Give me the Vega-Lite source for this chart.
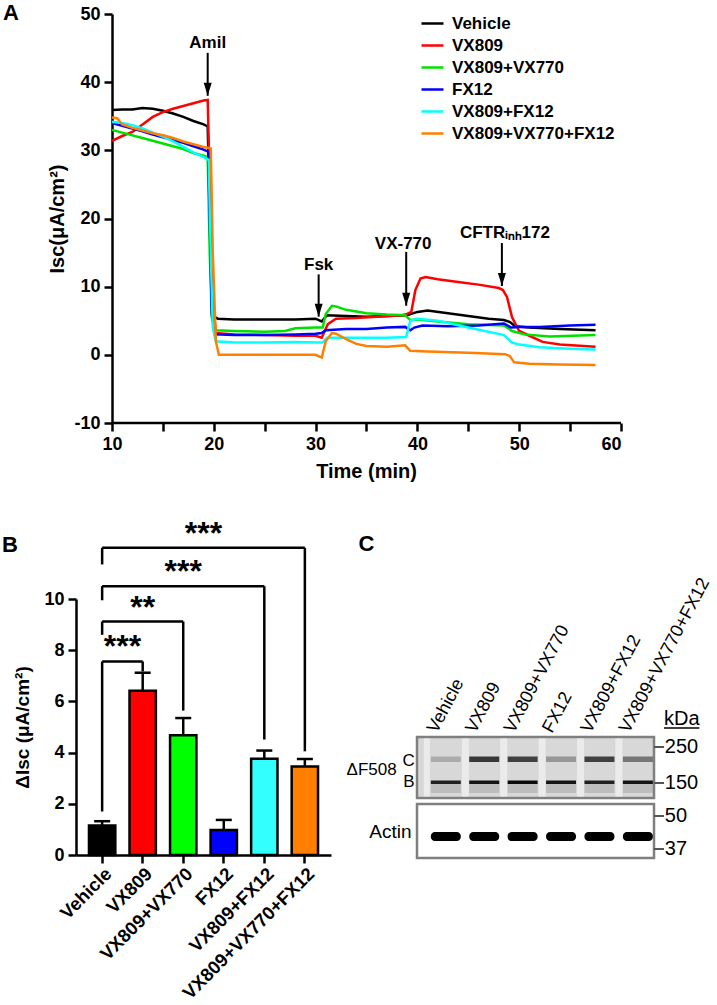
{
  "$schema": "https://vega.github.io/schema/vega-lite/v6.json",
  "background": "white",
  "padding": {"left": 1, "top": 2, "right": 2, "bottom": 2},
  "config": {
    "font": "Liberation Sans",
    "view": {"stroke": null},
    "axis": {"domainColor": "black", "domainWidth": 2.5, "tickColor": "black", "tickWidth": 2.5, "labelColor": "black", "titleColor": "black", "labelFontWeight": "bold", "titleFontWeight": "bold", "grid": false}
  },
  "datasets": {
    "traces": [
      {"series":"Vehicle","time":10,"isc":35.9},{"series":"Vehicle","time":11,"isc":36.0},{"series":"Vehicle","time":12,"isc":36.0},{"series":"Vehicle","time":13,"isc":36.2},{"series":"Vehicle","time":14,"isc":36.1},{"series":"Vehicle","time":15,"isc":35.8},{"series":"Vehicle","time":16,"isc":35.4},{"series":"Vehicle","time":17,"isc":34.9},{"series":"Vehicle","time":18,"isc":34.3},{"series":"Vehicle","time":19,"isc":33.8},{"series":"Vehicle","time":19.4,"isc":33.5},{"series":"Vehicle","time":19.7,"isc":15},{"series":"Vehicle","time":20,"isc":5.6},{"series":"Vehicle","time":20.4,"isc":5.3},{"series":"Vehicle","time":22,"isc":5.2},{"series":"Vehicle","time":25,"isc":5.2},{"series":"Vehicle","time":28,"isc":5.2},{"series":"Vehicle","time":30,"isc":5.3},{"series":"Vehicle","time":30.6,"isc":4.9},{"series":"Vehicle","time":31.1,"isc":5.8},{"series":"Vehicle","time":33,"isc":5.7},{"series":"Vehicle","time":35,"isc":5.6},{"series":"Vehicle","time":37,"isc":5.7},{"series":"Vehicle","time":39,"isc":5.8},{"series":"Vehicle","time":39.4,"isc":6.0},{"series":"Vehicle","time":40,"isc":6.3},{"series":"Vehicle","time":41,"isc":6.5},{"series":"Vehicle","time":43,"isc":6.1},{"series":"Vehicle","time":45,"isc":5.7},{"series":"Vehicle","time":47,"isc":5.3},{"series":"Vehicle","time":48.5,"isc":5.1},{"series":"Vehicle","time":49.1,"isc":4.8},{"series":"Vehicle","time":49.6,"isc":4.2},{"series":"Vehicle","time":51,"isc":4.0},{"series":"Vehicle","time":54,"isc":3.8},{"series":"Vehicle","time":57.5,"isc":3.6},
      {"series":"VX809","time":10,"isc":31.4},{"series":"VX809","time":11,"isc":32.1},{"series":"VX809","time":12,"isc":32.7},{"series":"VX809","time":13,"isc":33.8},{"series":"VX809","time":14,"isc":34.9},{"series":"VX809","time":15,"isc":35.6},{"series":"VX809","time":16,"isc":36.1},{"series":"VX809","time":17,"isc":36.5},{"series":"VX809","time":18,"isc":36.9},{"series":"VX809","time":19,"isc":37.3},{"series":"VX809","time":19.4,"isc":37.4},{"series":"VX809","time":19.6,"isc":25},{"series":"VX809","time":19.8,"isc":10},{"series":"VX809","time":20.2,"isc":3.2},{"series":"VX809","time":22,"isc":3.0},{"series":"VX809","time":25,"isc":2.9},{"series":"VX809","time":28,"isc":2.8},{"series":"VX809","time":30,"isc":2.8},{"series":"VX809","time":30.6,"isc":2.5},{"series":"VX809","time":31.2,"isc":4.5},{"series":"VX809","time":32,"isc":5.3},{"series":"VX809","time":34,"isc":5.4},{"series":"VX809","time":36,"isc":5.6},{"series":"VX809","time":38.5,"isc":5.8},{"series":"VX809","time":39,"isc":6.0},{"series":"VX809","time":39.4,"isc":6.3},{"series":"VX809","time":39.8,"isc":9.5},{"series":"VX809","time":40.3,"isc":11.2},{"series":"VX809","time":40.8,"isc":11.4},{"series":"VX809","time":42,"isc":11.1},{"series":"VX809","time":44,"isc":10.7},{"series":"VX809","time":46,"isc":10.3},{"series":"VX809","time":48,"isc":9.8},{"series":"VX809","time":48.4,"isc":9.5},{"series":"VX809","time":48.8,"isc":8.5},{"series":"VX809","time":49.3,"isc":5.5},{"series":"VX809","time":50,"isc":3.5},{"series":"VX809","time":51,"isc":2.8},{"series":"VX809","time":52.3,"isc":1.9},{"series":"VX809","time":54,"isc":1.5},{"series":"VX809","time":57.5,"isc":1.2},
      {"series":"VX809+VX770","time":10,"isc":33.0},{"series":"VX809+VX770","time":11,"isc":32.6},{"series":"VX809+VX770","time":12,"isc":32.2},{"series":"VX809+VX770","time":13,"isc":31.8},{"series":"VX809+VX770","time":14,"isc":31.4},{"series":"VX809+VX770","time":15,"isc":31.0},{"series":"VX809+VX770","time":16,"isc":30.6},{"series":"VX809+VX770","time":17,"isc":30.2},{"series":"VX809+VX770","time":18,"isc":29.6},{"series":"VX809+VX770","time":19,"isc":29.2},{"series":"VX809+VX770","time":19.4,"isc":29.0},{"series":"VX809+VX770","time":19.6,"isc":15},{"series":"VX809+VX770","time":19.8,"isc":5.5},{"series":"VX809+VX770","time":20.2,"isc":3.6},{"series":"VX809+VX770","time":22,"isc":3.5},{"series":"VX809+VX770","time":25,"isc":3.4},{"series":"VX809+VX770","time":27,"isc":3.5},{"series":"VX809+VX770","time":28,"isc":3.9},{"series":"VX809+VX770","time":30,"isc":4.0},{"series":"VX809+VX770","time":30.7,"isc":4.0},{"series":"VX809+VX770","time":31,"isc":6.0},{"series":"VX809+VX770","time":31.6,"isc":7.2},{"series":"VX809+VX770","time":32,"isc":7.1},{"series":"VX809+VX770","time":33,"isc":6.6},{"series":"VX809+VX770","time":35,"isc":6.1},{"series":"VX809+VX770","time":37,"isc":5.9},{"series":"VX809+VX770","time":38.8,"isc":5.8},{"series":"VX809+VX770","time":39.3,"isc":5.1},{"series":"VX809+VX770","time":40,"isc":5.2},{"series":"VX809+VX770","time":42,"isc":4.9},{"series":"VX809+VX770","time":45,"isc":4.5},{"series":"VX809+VX770","time":48.5,"isc":4.3},{"series":"VX809+VX770","time":49.3,"isc":3.5},{"series":"VX809+VX770","time":50.5,"isc":3.0},{"series":"VX809+VX770","time":53,"isc":2.7},{"series":"VX809+VX770","time":57.5,"isc":2.9},
      {"series":"FX12","time":10,"isc":34.0},{"series":"FX12","time":11,"isc":33.6},{"series":"FX12","time":12,"isc":33.2},{"series":"FX12","time":13,"isc":32.8},{"series":"FX12","time":14,"isc":32.3},{"series":"FX12","time":15,"isc":31.9},{"series":"FX12","time":16,"isc":31.5},{"series":"FX12","time":17,"isc":31.1},{"series":"FX12","time":18,"isc":30.6},{"series":"FX12","time":19,"isc":30.1},{"series":"FX12","time":19.45,"isc":29.8},{"series":"FX12","time":19.6,"isc":20},{"series":"FX12","time":19.8,"isc":6},{"series":"FX12","time":20.1,"isc":3.0},{"series":"FX12","time":22,"isc":2.9},{"series":"FX12","time":25,"isc":2.9},{"series":"FX12","time":28,"isc":3.0},{"series":"FX12","time":30,"isc":3.1},{"series":"FX12","time":30.6,"isc":3.2},{"series":"FX12","time":31,"isc":3.6},{"series":"FX12","time":33,"isc":3.8},{"series":"FX12","time":35,"isc":3.8},{"series":"FX12","time":37,"isc":4.0},{"series":"FX12","time":38.8,"isc":4.1},{"series":"FX12","time":39.3,"isc":3.6},{"series":"FX12","time":39.7,"isc":4.0},{"series":"FX12","time":40.5,"isc":4.3},{"series":"FX12","time":43,"isc":4.2},{"series":"FX12","time":46,"isc":4.3},{"series":"FX12","time":48.5,"isc":4.6},{"series":"FX12","time":49.2,"isc":4.0},{"series":"FX12","time":50,"isc":4.1},{"series":"FX12","time":52,"isc":4.1},{"series":"FX12","time":55,"isc":4.3},{"series":"FX12","time":57.5,"isc":4.4},
      {"series":"VX809+FX12","time":10,"isc":34.2},{"series":"VX809+FX12","time":11,"isc":34.0},{"series":"VX809+FX12","time":12,"isc":33.7},{"series":"VX809+FX12","time":13,"isc":33.2},{"series":"VX809+FX12","time":14,"isc":32.6},{"series":"VX809+FX12","time":15,"isc":32.0},{"series":"VX809+FX12","time":16,"isc":31.3},{"series":"VX809+FX12","time":17,"isc":30.5},{"series":"VX809+FX12","time":18,"isc":29.7},{"series":"VX809+FX12","time":19,"isc":29.0},{"series":"VX809+FX12","time":19.5,"isc":28.6},{"series":"VX809+FX12","time":19.7,"isc":15},{"series":"VX809+FX12","time":19.9,"isc":4},{"series":"VX809+FX12","time":20.2,"isc":2.0},{"series":"VX809+FX12","time":22,"isc":1.8},{"series":"VX809+FX12","time":25,"isc":1.8},{"series":"VX809+FX12","time":28,"isc":1.9},{"series":"VX809+FX12","time":30,"isc":1.8},{"series":"VX809+FX12","time":30.7,"isc":1.8},{"series":"VX809+FX12","time":31.1,"isc":2.5},{"series":"VX809+FX12","time":33,"isc":2.5},{"series":"VX809+FX12","time":35,"isc":2.5},{"series":"VX809+FX12","time":37,"isc":2.5},{"series":"VX809+FX12","time":38.9,"isc":2.6},{"series":"VX809+FX12","time":39.3,"isc":5.0},{"series":"VX809+FX12","time":40,"isc":5.3},{"series":"VX809+FX12","time":42,"isc":5.0},{"series":"VX809+FX12","time":45,"isc":4.0},{"series":"VX809+FX12","time":48.5,"isc":2.9},{"series":"VX809+FX12","time":49.3,"isc":1.8},{"series":"VX809+FX12","time":50,"isc":1.5},{"series":"VX809+FX12","time":52,"isc":1.1},{"series":"VX809+FX12","time":55,"isc":0.9},{"series":"VX809+FX12","time":57.5,"isc":0.8},
      {"series":"VX809+VX770+FX12","time":10,"isc":34.8},{"series":"VX809+VX770+FX12","time":10.5,"isc":34.7},{"series":"VX809+VX770+FX12","time":11,"isc":33.8},{"series":"VX809+VX770+FX12","time":12,"isc":33.3},{"series":"VX809+VX770+FX12","time":13,"isc":32.9},{"series":"VX809+VX770+FX12","time":14,"isc":32.5},{"series":"VX809+VX770+FX12","time":15,"isc":32.2},{"series":"VX809+VX770+FX12","time":16,"isc":31.8},{"series":"VX809+VX770+FX12","time":17,"isc":31.3},{"series":"VX809+VX770+FX12","time":18,"isc":30.9},{"series":"VX809+VX770+FX12","time":19,"isc":30.5},{"series":"VX809+VX770+FX12","time":19.7,"isc":30.3},{"series":"VX809+VX770+FX12","time":19.9,"isc":15},{"series":"VX809+VX770+FX12","time":20.2,"isc":2},{"series":"VX809+VX770+FX12","time":20.5,"isc":0.0},{"series":"VX809+VX770+FX12","time":22,"isc":0.0},{"series":"VX809+VX770+FX12","time":25,"isc":0.0},{"series":"VX809+VX770+FX12","time":28,"isc":0.0},{"series":"VX809+VX770+FX12","time":30,"isc":0.0},{"series":"VX809+VX770+FX12","time":30.6,"isc":-0.4},{"series":"VX809+VX770+FX12","time":31,"isc":2.0},{"series":"VX809+VX770+FX12","time":31.6,"isc":3.2},{"series":"VX809+VX770+FX12","time":32,"isc":3.1},{"series":"VX809+VX770+FX12","time":33,"isc":2.3},{"series":"VX809+VX770+FX12","time":34,"isc":1.6},{"series":"VX809+VX770+FX12","time":35,"isc":1.3},{"series":"VX809+VX770+FX12","time":37,"isc":1.2},{"series":"VX809+VX770+FX12","time":38.8,"isc":1.4},{"series":"VX809+VX770+FX12","time":39.3,"isc":0.6},{"series":"VX809+VX770+FX12","time":41,"isc":0.5},{"series":"VX809+VX770+FX12","time":45,"isc":0.3},{"series":"VX809+VX770+FX12","time":48.6,"isc":0.1},{"series":"VX809+VX770+FX12","time":49.1,"isc":-0.2},{"series":"VX809+VX770+FX12","time":49.5,"isc":-1.1},{"series":"VX809+VX770+FX12","time":51,"isc":-1.3},{"series":"VX809+VX770+FX12","time":54,"isc":-1.4},{"series":"VX809+VX770+FX12","time":57.5,"isc":-1.5}
    ],
    "arrows": [
      {"label":"Amil","tx":19.4,"ty":45.8,"ax":19.4,"ytop":44.3,"ytip":38.0},
      {"label":"Fsk","tx":30.3,"ty":13.2,"ax":30.3,"ytop":11.8,"ytip":5.6},
      {"label":"VX-770","tx":38.6,"ty":16.3,"ax":38.9,"ytop":15.1,"ytip":7.2},
      {"label":"CFTRᵢₙₕ172","tx":48.6,"ty":17.8,"ax":48.3,"ytop":16.4,"ytip":10.1}
    ],
    "bars": [
      {"group":"Vehicle","mean":1.15,"upper":1.32},
      {"group":"VX809","mean":6.42,"upper":7.12},
      {"group":"VX809+VX770","mean":4.68,"upper":5.35},
      {"group":"FX12","mean":0.98,"upper":1.37},
      {"group":"VX809+FX12","mean":3.76,"upper":4.08},
      {"group":"VX809+VX770+FX12","mean":3.46,"upper":3.75}
    ],
    "brackets": [
      {"from":"Vehicle","to":"VX809","level":7.56,"fromEnd":1.7,"toEnd":7.17,"stars":"***","mid":"Vehicle"},
      {"from":"Vehicle","to":"VX809+VX770","level":9.12,"fromEnd":8.6,"toEnd":5.64,"stars":"**","mid":"VX809"},
      {"from":"Vehicle","to":"VX809+FX12","level":10.5,"fromEnd":9.95,"toEnd":4.51,"stars":"***","mid":"VX809+VX770"},
      {"from":"Vehicle","to":"VX809+VX770+FX12","level":12.0,"fromEnd":11.35,"toEnd":4.05,"stars":"***","mid":"VX809+VX770"}
    ],
    "lanes": [
      {"lane":1,"name":"Vehicle","cBand":0.2,"bBand":0.85},
      {"lane":2,"name":"VX809","cBand":0.75,"bBand":0.9},
      {"lane":3,"name":"VX809+VX770","cBand":0.7,"bBand":0.95},
      {"lane":4,"name":"FX12","cBand":0.3,"bBand":0.9},
      {"lane":5,"name":"VX809+FX12","cBand":0.7,"bBand":0.85},
      {"lane":6,"name":"VX809+VX770+FX12","cBand":0.45,"bBand":0.9}
    ],
    "markers": [
      {"kDa":"250","blot":"CFTR","migration":10},
      {"kDa":"150","blot":"CFTR","migration":46},
      {"kDa":"50","blot":"Actin","migration":79},
      {"kDa":"37","blot":"Actin","migration":112}
    ],
    "blots": [
      {"blot":"CFTR","top":0,"bottom":61},
      {"blot":"Actin","top":67,"bottom":121}
    ]
  },
  "spacing": 36,
  "vconcat": [
    {
      "width": 545,
      "height": 409,
      "layer": [
        {
          "data": {"name": "traces"},
          "mark": {"type": "line", "strokeWidth": 2.5},
          "encoding": {
            "x": {"field": "time", "type": "quantitative",
              "scale": {"domain": [6.464, 60], "nice": false, "zero": false},
              "axis": {"title": "Time (min)", "values": [10,15,20,25,30,35,40,45,50,55,60], "domain": false,
                "labelExpr": "datum.value % 10 === 0 ? '' + datum.value : ''",
                "tickSize": 8, "labelFontSize": 18, "titleFontSize": 20, "labelPadding": 4, "titlePadding": 8, "titleX": 290,
                "encode": {"ticks": {"update": {"y2": {"signal": "datum.value % 10 === 0 ? 8 : 4"}}}}}},
            "y": {"field": "isc", "type": "quantitative",
              "scale": {"domain": [-10, 50], "nice": false, "zero": false},
              "axis": {"title": "Isc(μA/cm²)", "values": [-10,-5,0,5,10,15,20,25,30,35,40,45,50], "offset": -36,
                "labelExpr": "datum.value % 10 === 0 ? '' + datum.value : ''",
                "tickSize": 8, "labelFontSize": 18, "titleFontSize": 20, "labelPadding": 4, "titlePadding": 6,
                "encode": {"ticks": {"update": {"x2": {"signal": "datum.value % 10 === 0 ? -8 : -4"}}}}}},
            "color": {"field": "series", "type": "nominal",
              "scale": {"domain": ["Vehicle","VX809","VX809+VX770","FX12","VX809+FX12","VX809+VX770+FX12"],
                        "range": ["#000000","#ff0000","#00e000","#0000ff","#00ffff","#ff7f00"]},
              "legend": {"title": null, "orient": "none", "legendX": 344, "legendY": -3,
                "symbolType": "stroke", "symbolStrokeWidth": 2.5, "symbolSize": 484,
                "labelFontSize": 17, "labelFontWeight": "bold", "labelColor": "black", "labelLimit": 300,
                "rowPadding": 1, "labelOffset": 7}}
          }
        },
        {
          "data": {"values": [{}]},
          "mark": {"type": "rule", "strokeWidth": 2.5, "color": "black"},
          "encoding": {"x": {"datum": 10}, "x2": {"datum": 60}, "y": {"datum": -10}}
        },
        {
          "data": {"values": [{}]},
          "mark": {"type": "text", "text": "A", "fontSize": 22, "fontWeight": "bold", "align": "left", "baseline": "alphabetic", "color": "black"},
          "encoding": {"x": {"datum": -0.71}, "y": {"datum": 49.05}}
        },
        {
          "data": {"name": "arrows"},
          "mark": {"type": "text", "fontSize": 17, "fontWeight": "bold", "align": "center", "baseline": "middle", "color": "black"},
          "encoding": {"x": {"field": "tx", "type": "quantitative"}, "y": {"field": "ty", "type": "quantitative"}, "text": {"field": "label"}}
        },
        {
          "data": {"name": "arrows"},
          "mark": {"type": "rule", "strokeWidth": 2, "color": "black"},
          "encoding": {"x": {"field": "ax", "type": "quantitative"}, "y": {"field": "ytop", "type": "quantitative"}, "y2": {"field": "ytip"}}
        },
        {
          "data": {"name": "arrows"},
          "mark": {"type": "point", "shape": "M-0.8,-1.3L0.8,-1.3L0,1.3Z", "size": 100, "filled": true, "color": "black", "opacity": 1, "yOffset": -6.5},
          "encoding": {"x": {"field": "ax", "type": "quantitative"}, "y": {"field": "ytip", "type": "quantitative"}}
        }
      ]
    },
    {
      "spacing": 15,
      "hconcat": [
        {
          "width": 255,
          "height": 256,
          "title": {"text": "B", "anchor": "start", "frame": "bounds", "fontSize": 22, "fontWeight": "bold", "color": "black", "offset": -39, "dx": -12},
          "layer": [
            {
              "data": {"name": "bars"},
              "mark": {"type": "bar", "stroke": "black", "strokeWidth": 2.5},
              "encoding": {
                "x": {"field": "group", "type": "nominal",
                  "scale": {"domain": ["Vehicle","VX809","VX809+VX770","FX12","VX809+FX12","VX809+VX770+FX12"], "paddingInner": 0.35, "paddingOuter": 0.32},
                  "axis": {"title": null, "labelAngle": -45, "labelFontSize": 18.5, "labelLimit": 300, "tickSize": 8, "labelPadding": 1}},
                "y": {"field": "mean", "type": "quantitative",
                  "scale": {"domain": [0, 10], "nice": false},
                  "axis": {"title": "ΔIsc (μA/cm²)", "values": [0,2,4,6,8,10], "tickSize": 8, "labelFontSize": 18, "titleFontSize": 19, "labelPadding": 4, "titlePadding": 11}},
                "fill": {"field": "group", "type": "nominal",
                  "scale": {"domain": ["Vehicle","VX809","VX809+VX770","FX12","VX809+FX12","VX809+VX770+FX12"],
                            "range": ["#000000","#ff0000","#00ff00","#0000ff","#33ffff","#ff7f00"]},
                  "legend": null}
              }
            },
            {
              "data": {"name": "bars"},
              "mark": {"type": "rule", "strokeWidth": 2.5, "color": "black"},
              "encoding": {
                "x": {"field": "group", "type": "nominal", "axis": {"title": null, "labelAngle": -45, "labelFontSize": 18.5, "labelLimit": 300, "tickSize": 8, "labelPadding": 1}},
                "y": {"field": "mean", "type": "quantitative", "axis": {"title": "ΔIsc (μA/cm²)", "values": [0,2,4,6,8,10], "tickSize": 8, "labelFontSize": 18, "titleFontSize": 19, "labelPadding": 4, "titlePadding": 11}},
                "y2": {"field": "upper"}}
            },
            {
              "data": {"name": "bars"},
              "mark": {"type": "tick", "orient": "horizontal", "size": 16, "thickness": 2.5, "color": "black", "opacity": 1},
              "encoding": {
                "x": {"field": "group", "type": "nominal", "axis": {"title": null, "labelAngle": -45, "labelFontSize": 18.5, "labelLimit": 300, "tickSize": 8, "labelPadding": 1}},
                "y": {"field": "upper", "type": "quantitative", "axis": {"title": "ΔIsc (μA/cm²)", "values": [0,2,4,6,8,10], "tickSize": 8, "labelFontSize": 18, "titleFontSize": 19, "labelPadding": 4, "titlePadding": 11}}}
            },
            {
              "data": {"name": "brackets"},
              "mark": {"type": "rule", "strokeWidth": 2.5, "color": "black"},
              "encoding": {
                "x": {"field": "from", "type": "nominal", "axis": {"title": null, "labelAngle": -45, "labelFontSize": 18.5, "labelLimit": 300, "tickSize": 8, "labelPadding": 1}},
                "x2": {"field": "to"},
                "y": {"field": "level", "type": "quantitative", "axis": {"title": "ΔIsc (μA/cm²)", "values": [0,2,4,6,8,10], "tickSize": 8, "labelFontSize": 18, "titleFontSize": 19, "labelPadding": 4, "titlePadding": 11}}}
            },
            {
              "data": {"name": "brackets"},
              "mark": {"type": "rule", "strokeWidth": 2.5, "color": "black"},
              "encoding": {
                "x": {"field": "from", "type": "nominal", "axis": {"title": null, "labelAngle": -45, "labelFontSize": 18.5, "labelLimit": 300, "tickSize": 8, "labelPadding": 1}},
                "y": {"field": "level", "type": "quantitative", "axis": {"title": "ΔIsc (μA/cm²)", "values": [0,2,4,6,8,10], "tickSize": 8, "labelFontSize": 18, "titleFontSize": 19, "labelPadding": 4, "titlePadding": 11}},
                "y2": {"field": "fromEnd"}}
            },
            {
              "data": {"name": "brackets"},
              "mark": {"type": "rule", "strokeWidth": 2.5, "color": "black"},
              "encoding": {
                "x": {"field": "to", "type": "nominal", "axis": {"title": null, "labelAngle": -45, "labelFontSize": 18.5, "labelLimit": 300, "tickSize": 8, "labelPadding": 1}},
                "y": {"field": "level", "type": "quantitative", "axis": {"title": "ΔIsc (μA/cm²)", "values": [0,2,4,6,8,10], "tickSize": 8, "labelFontSize": 18, "titleFontSize": 19, "labelPadding": 4, "titlePadding": 11}},
                "y2": {"field": "toEnd"}}
            },
            {
              "data": {"name": "brackets"},
              "transform": [{"filter": "datum.to == 'VX809+VX770' || datum.to == 'VX809+FX12'"}],
              "mark": {"type": "text", "fontSize": 32, "fontWeight": "bold", "align": "center", "baseline": "alphabetic", "color": "black", "yOffset": -4},
              "encoding": {
                "x": {"field": "mid", "type": "nominal", "axis": {"title": null, "labelAngle": -45, "labelFontSize": 18.5, "labelLimit": 300, "tickSize": 8, "labelPadding": 1}},
                "y": {"field": "level", "type": "quantitative", "axis": {"title": "ΔIsc (μA/cm²)", "values": [0,2,4,6,8,10], "tickSize": 8, "labelFontSize": 18, "titleFontSize": 19, "labelPadding": 4, "titlePadding": 11}},
                "text": {"field": "stars"}}
            },
            {
              "data": {"name": "brackets"},
              "transform": [{"filter": "datum.to == 'VX809' || datum.to == 'VX809+VX770+FX12'"}],
              "mark": {"type": "text", "fontSize": 32, "fontWeight": "bold", "align": "center", "baseline": "alphabetic", "color": "black", "yOffset": -4},
              "encoding": {
                "x": {"field": "mid", "type": "nominal", "bandPosition": 1.27, "axis": {"title": null, "labelAngle": -45, "labelFontSize": 18.5, "labelLimit": 300, "tickSize": 8, "labelPadding": 1}},
                "y": {"field": "level", "type": "quantitative", "axis": {"title": "ΔIsc (μA/cm²)", "values": [0,2,4,6,8,10], "tickSize": 8, "labelFontSize": 18, "titleFontSize": 19, "labelPadding": 4, "titlePadding": 11}},
                "text": {"field": "stars"}}
            }
          ]
        },
        {
          "width": 237,
          "height": 263,
          "layer": [
            {
              "data": {"name": "blots"},
              "transform": [{"filter": "datum.blot == 'CFTR'"}],
              "mark": {"type": "rect", "stroke": "#7f7f7f", "strokeWidth": 2.5, "fill": "#d8d8d8"},
              "encoding": {
                "x": {"datum": 0.25, "type": "quantitative", "scale": {"domain": [0.25, 6.42], "nice": false, "zero": false}, "axis": null},
                "x2": {"datum": 6.42},
                "y": {"field": "top", "type": "quantitative", "scale": {"domain": [-138, 125], "nice": false, "zero": false, "reverse": true}, "axis": null},
                "y2": {"field": "bottom"}
              }
            },
            {
              "data": {"name": "blots"},
              "transform": [{"filter": "datum.blot == 'Actin'"}],
              "mark": {"type": "rect", "stroke": "#7f7f7f", "strokeWidth": 2.5, "fill": "#ffffff"},
              "encoding": {"x": {"datum": 0.25}, "x2": {"datum": 6.42}, "y": {"field": "top", "type": "quantitative"}, "y2": {"field": "bottom"}}
            },
            {
              "data": {"name": "lanes"},
              "transform": [{"filter": "datum.lane < 6"}],
              "mark": {"type": "rect", "color": "#f2f2f2", "opacity": 0.75, "xOffset": 16, "x2Offset": 23},
              "encoding": {"x": {"field": "lane", "type": "quantitative"}, "x2": {"field": "lane"}, "y": {"datum": 1.5}, "y2": {"datum": 59.5}}
            },
            {
              "data": {"name": "lanes"},
              "transform": [{"filter": "datum.lane == 1"}],
              "mark": {"type": "rect", "color": "#f2f2f2", "opacity": 0.75, "xOffset": -22, "x2Offset": -16},
              "encoding": {"x": {"field": "lane", "type": "quantitative"}, "x2": {"field": "lane"}, "y": {"datum": 1.5}, "y2": {"datum": 59.5}}
            },
            {
              "data": {"name": "lanes"},
              "mark": {"type": "rect", "color": "black", "xOffset": -15, "x2Offset": 15},
              "encoding": {"x": {"field": "lane", "type": "quantitative"}, "x2": {"field": "lane"}, "y": {"datum": 19.5}, "y2": {"datum": 25}, "opacity": {"field": "cBand", "type": "quantitative", "scale": null, "legend": null}}
            },
            {
              "data": {"name": "lanes"},
              "mark": {"type": "rect", "color": "black", "xOffset": -15, "x2Offset": 15},
              "encoding": {"x": {"field": "lane", "type": "quantitative"}, "x2": {"field": "lane"}, "y": {"datum": 43.5}, "y2": {"datum": 47}, "opacity": {"field": "bBand", "type": "quantitative", "scale": null, "legend": null}}
            },
            {
              "data": {"name": "lanes"},
              "mark": {"type": "rect", "color": "black", "opacity": 0.12, "xOffset": -15, "x2Offset": 15},
              "encoding": {"x": {"field": "lane", "type": "quantitative"}, "x2": {"field": "lane"}, "y": {"datum": 47}, "y2": {"datum": 56}}
            },
            {
              "data": {"name": "lanes"},
              "mark": {"type": "rect", "color": "black", "xOffset": -15, "x2Offset": 15, "cornerRadius": 4},
              "encoding": {"x": {"field": "lane", "type": "quantitative"}, "x2": {"field": "lane"}, "y": {"datum": 95}, "y2": {"datum": 104}}
            },
            {
              "data": {"name": "lanes"},
              "mark": {"type": "text", "fontSize": 18, "angle": -62, "align": "left", "baseline": "alphabetic", "color": "black", "xOffset": -9},
              "encoding": {"x": {"field": "lane", "type": "quantitative"}, "y": {"datum": -3}, "text": {"field": "name"}}
            },
            {
              "data": {"name": "markers"},
              "mark": {"type": "rule", "color": "#555555", "strokeWidth": 2},
              "encoding": {"x": {"datum": 6.42}, "x2": {"datum": 6.68}, "y": {"field": "migration", "type": "quantitative"}}
            },
            {
              "data": {"name": "markers"},
              "mark": {"type": "text", "fontSize": 20, "align": "left", "baseline": "middle", "color": "black"},
              "encoding": {"x": {"datum": 6.7}, "y": {"field": "migration", "type": "quantitative"}, "text": {"field": "kDa"}}
            },
            {
              "data": {"values": [{}]},
              "mark": {"type": "text", "text": "kDa", "fontSize": 20, "align": "left", "baseline": "middle", "color": "black"},
              "encoding": {"x": {"datum": 6.68}, "y": {"datum": -18}}
            },
            {
              "data": {"values": [{}]},
              "mark": {"type": "rule", "color": "black", "strokeWidth": 1.5},
              "encoding": {"x": {"datum": 6.68}, "x2": {"datum": 7.6}, "y": {"datum": -9}}
            },
            {
              "data": {"values": [{}]},
              "mark": {"type": "text", "text": "ΔF508", "fontSize": 17, "align": "right", "baseline": "middle", "color": "black"},
              "encoding": {"x": {"datum": -0.28}, "y": {"datum": 33}}
            },
            {
              "data": {"values": [{}]},
              "mark": {"type": "text", "text": "C", "fontSize": 17, "align": "right", "baseline": "middle", "color": "black"},
              "encoding": {"x": {"datum": 0.19}, "y": {"datum": 23.5}}
            },
            {
              "data": {"values": [{}]},
              "mark": {"type": "text", "text": "B", "fontSize": 17, "align": "right", "baseline": "middle", "color": "black"},
              "encoding": {"x": {"datum": 0.19}, "y": {"datum": 44.5}}
            },
            {
              "data": {"values": [{}]},
              "mark": {"type": "text", "text": "Actin", "fontSize": 19, "align": "right", "baseline": "middle", "color": "black"},
              "encoding": {"x": {"datum": 0.11}, "y": {"datum": 94.5}}
            },
            {
              "data": {"values": [{}]},
              "mark": {"type": "text", "text": "C", "fontSize": 22, "fontWeight": "bold", "align": "left", "baseline": "alphabetic", "color": "black"},
              "encoding": {"x": {"datum": -1.27}, "y": {"datum": -185.7}}
            }
          ]
        }
      ]
    }
  ]
}
